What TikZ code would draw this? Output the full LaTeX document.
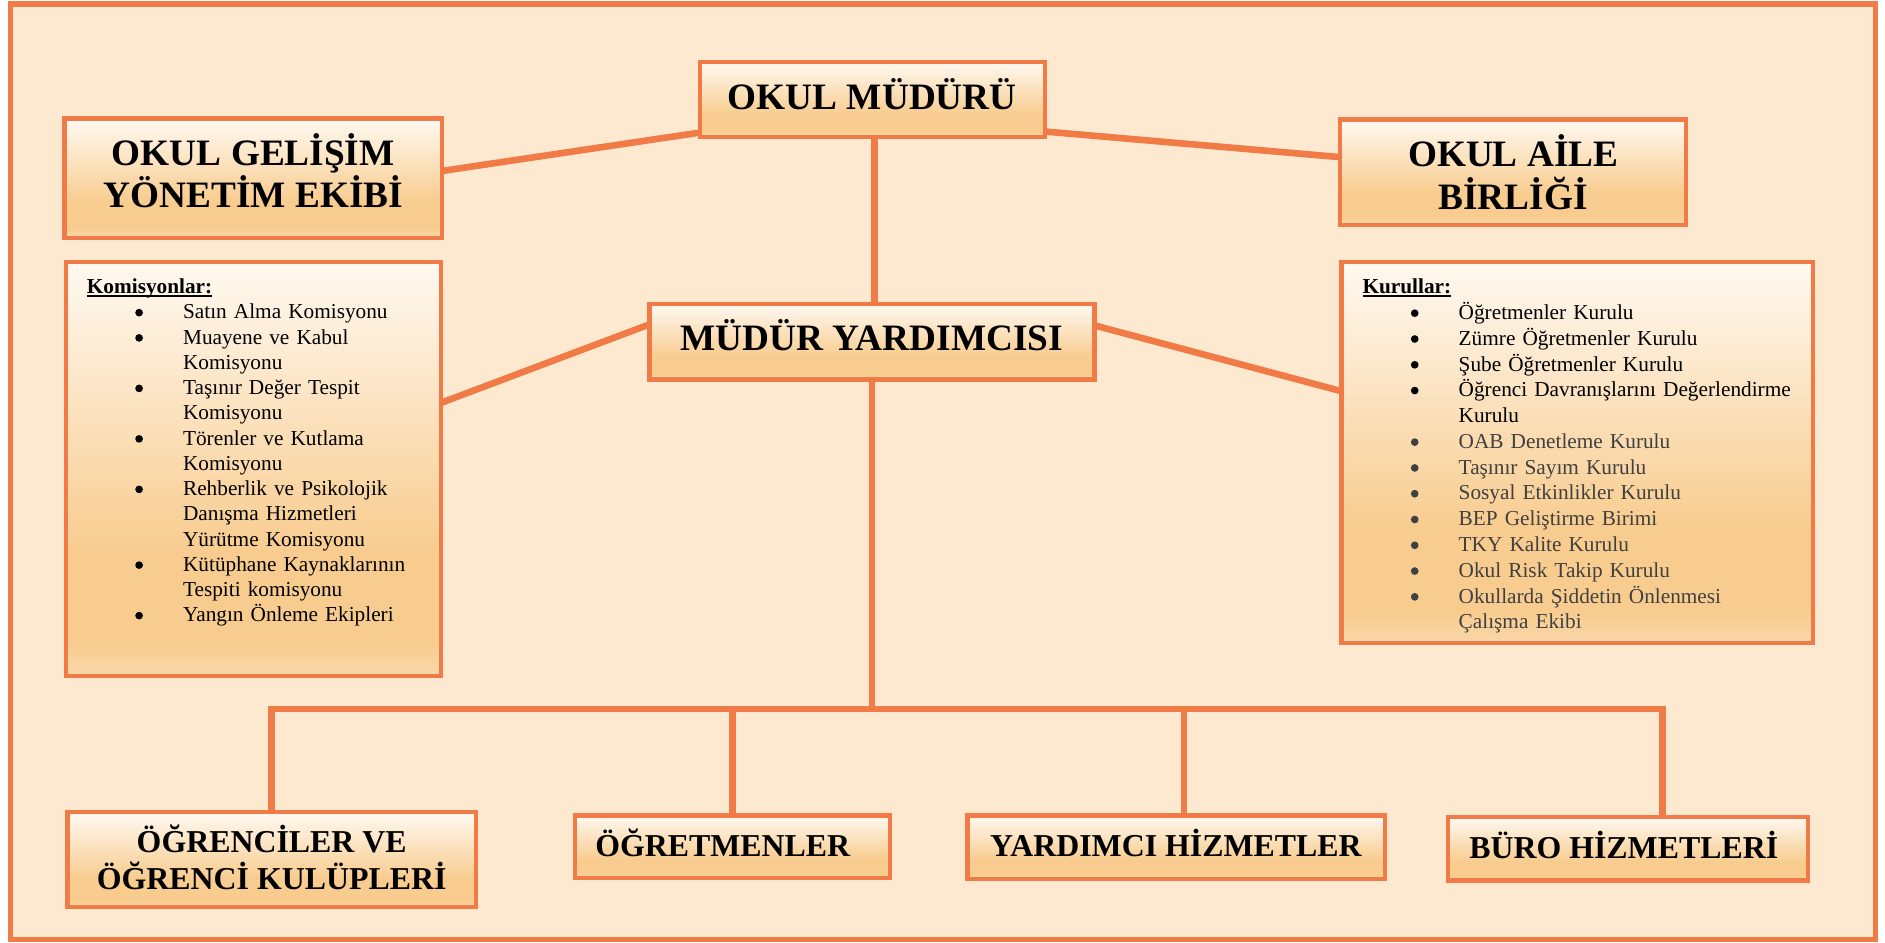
\documentclass[tikz,border=0pt]{standalone}
\usepackage{fontspec}
\setmainfont{Liberation Serif}
\usetikzlibrary{calc}
\definecolor{bg}{HTML}{FCE9CF}
\definecolor{org}{HTML}{F07B47}
\definecolor{gtop}{HTML}{FFF9F1}
\definecolor{gbot}{HTML}{F8CC8F}
\definecolor{gbl}{HTML}{F9D7AA}
\definecolor{gry}{HTML}{404040}
\pgfdeclareverticalshading{boxshade}{100bp}{color(0bp)=(gbl); color(25bp)=(gbl); color(29bp)=(gbot); color(40bp)=(gbot); color(75bp)=(gtop); color(100bp)=(gtop)}
\newcommand\blt{\makebox[80pt][l]{\hspace{40.2pt}\tikz[baseline=0pt]\fill (3.2pt,5.2pt) circle (3.2pt);}}
\newcommand\ind{\makebox[80pt]{}}
\newcommand\myul[1]{\setbox0\hbox{#1}\rlap{\rule[-3pt]{\wd0}{1.8pt}}\box0}
\begin{document}
\begin{tikzpicture}[x=1pt,y=1pt,
  conn/.style={draw=org, line width=5.5pt},
  bx/.style={draw=org, line width=3.6pt, shade, shading=boxshade, anchor=north west, inner sep=0pt, outer sep=0pt},
  ttl/.style={font=\fontsize{31}{36}\selectfont\bfseries, inner sep=0pt, anchor=base},
  sttl/.style={font=\fontsize{26.5}{30}\selectfont\bfseries, inner sep=0pt},
  lst/.style={anchor=north west, inner sep=0pt, text width=420pt, align=left}]
\useasboundingbox (0,0) rectangle (1568,-784);
\fill[white] (0,0) rectangle (1568,-784);
\draw[draw=org, line width=4.5pt, fill=bg] (8.5,-3.2) rectangle (1560,-781.5);

% boxes
\node[bx, minimum width=287.2pt, minimum height=62.3pt] (mudur) at (582,-51.7) {};
\node[bx, minimum width=314.2pt, minimum height=99pt] (gelisim) at (53.6,-98.7) {};
\node[bx, minimum width=288pt, minimum height=87.6pt] (aile) at (1114.5,-99.3) {};
\node[bx, minimum width=370.1pt, minimum height=62.7pt] (yard) at (540.2,-253) {};
\node[bx, minimum width=312.2pt, minimum height=344pt] (kom) at (54.9,-218.1) {};
\node[bx, minimum width=392.5pt, minimum height=316.8pt] (kur) at (1115.8,-218.1) {};
\node[bx, minimum width=339.9pt, minimum height=79.2pt] (ogr) at (56.1,-675.5) {};
\node[bx, minimum width=262.1pt, minimum height=52pt] (ogrt) at (478.3,-678.4) {};
\node[bx, minimum width=347.4pt, minimum height=52.5pt] (yrd) at (804.9,-678.4) {};
\node[bx, minimum width=299.3pt, minimum height=52.7pt] (buro) at (1204.6,-679.8) {};

% connectors
\draw[conn] ([yshift=3.7pt]mudur.south west) -- ([yshift=6pt]gelisim.east);
\draw[conn] ([yshift=4.6pt]mudur.south east) -- ([yshift=12.4pt]aile.west);
\draw[conn] ([yshift=14.5pt]yard.west) -- ([yshift=-116.9pt]kom.north east);
\draw[conn] ([yshift=13.7pt]yard.east) -- ([yshift=-107.3pt]kur.north west);
\coordinate (v1) at ([xshift=1.8pt]mudur.south);
\draw[conn] (v1) -- (v1 |- yard.north);
\coordinate (bar) at (0,-589.8);
\coordinate (bR) at (1383,-589.8);
\coordinate (yd) at (985,-589.8);
\draw[conn, line join=miter] (ogr.north) |- (bR) -- (bR |- buro.north);
\draw[conn] (yard.south) -- (yard.south |- bar);
\draw[conn] (ogrt.north) -- (ogrt.north |- bar);
\draw[conn] (yd) -- (yd |- yrd.north);

% titles
\node[ttl] (t1) at (725.6,-90.7) {OKUL MÜDÜRÜ};
\node[ttl] (t2a) at (210.7,-137.3) {OKUL GELİŞİM};
\node[ttl] (t2b) at (210.7,-172.5) {YÖNETİM EKİBİ};
\node[ttl] (t3a) at (1258.7,-138.1) {OKUL AİLE};
\node[ttl] (t3b) at (1258.7,-174.1) {BİRLİĞİ};
\node[ttl] (t4) at (725,-291.7) {MÜDÜR YARDIMCISI};
\node[sttl, anchor=base] (t5a) at (226,-709.4) {ÖĞRENCİLER VE};
\node[sttl, anchor=base] (t5b) at (226,-739.8) {ÖĞRENCİ KULÜPLERİ};
\node[sttl, anchor=base west] (t6) at (495,-712.1) {ÖĞRETMENLER};
\node[sttl, anchor=base west] (t7) at (823.5,-712.1) {YARDIMCI HİZMETLER};
\node[sttl, anchor=base west] (t8) at (1222,-714) {BÜRO HİZMETLERİ};

% lists
\node[lst, font=\fontsize{17.7}{21}\selectfont] (komtxt) at (72.1,-231.8) {\myul{\textbf{Komisyonlar:}}\\
\blt Satın Alma Komisyonu\\
\blt Muayene ve Kabul\\
\ind Komisyonu\\
\blt Taşınır Değer Tespit\\
\ind Komisyonu\\
\blt Törenler ve Kutlama\\
\ind Komisyonu\\
\blt Rehberlik ve Psikolojik\\
\ind Danışma Hizmetleri\\
\ind Yürütme Komisyonu\\
\blt Kütüphane Kaynaklarının\\
\ind Tespiti komisyonu\\
\blt Yangın Önleme Ekipleri};

\node[lst, font=\fontsize{17.7}{21.45}\selectfont] (kurtxt) at (1133.2,-231.8) {\myul{\textbf{Kurullar:}}\\
\blt Öğretmenler Kurulu\\
\blt Zümre Öğretmenler Kurulu\\
\blt Şube Öğretmenler Kurulu\\
\blt Öğrenci Davranışlarını Değerlendirme\\
\ind Kurulu\\
\color{gry}\blt OAB Denetleme Kurulu\\
\blt Taşınır Sayım Kurulu\\
\blt Sosyal Etkinlikler Kurulu\\
\blt BEP Geliştirme Birimi\\
\blt TKY Kalite Kurulu\\
\blt Okul Risk Takip Kurulu\\
\blt Okullarda Şiddetin Önlenmesi\\
\ind Çalışma Ekibi};
\end{tikzpicture}
\end{document}
